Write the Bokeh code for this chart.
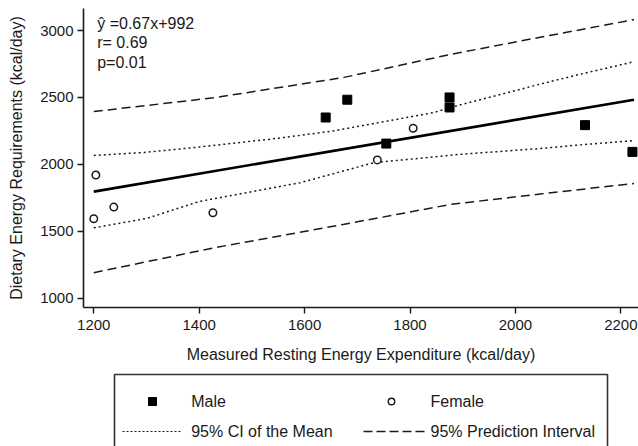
from bokeh.plotting import figure
from bokeh.models import Range1d, FixedTicker, Label
from bokeh.layouts import column
from bokeh.core.properties import value
from bokeh.embed import file_html
from bokeh.resources import INLINE

# ---------------- data ----------------
male_x = [1640, 1681, 1875, 1875, 1755, 2132, 2222]
male_y = [2350, 2483, 2500, 2425, 2155, 2293, 2093]
female_x = [1204, 1200, 1238, 1426, 1806, 1738]
female_y = [1920, 1593, 1680, 1638, 2270, 2033]

slope = 0.67
intercept = 992
fit_x = [1200, 2225]

ci_upper_x = [1200, 1300, 1402, 1550, 1655, 1845, 1877, 2047, 2130, 2225]
ci_upper = [2066, 2090, 2130, 2195, 2250, 2387, 2425, 2600, 2680, 2767]
ci_lower_x = [1200, 1300, 1400, 1592, 1731, 1896, 2047, 2130, 2225]
ci_lower = [1525, 1595, 1722, 1863, 2012, 2075, 2118, 2148, 2177]

pi_x = [1200, 1427, 1675, 1877, 2047, 2225]
pi_upper = [2395, 2497, 2650, 2822, 2950, 3082]
pi_lower = [1190, 1375, 1552, 1700, 1778, 1857]

x_ticks = [1200, 1400, 1600, 1800, 2000, 2200]
y_ticks = [1000, 1500, 2000, 2500, 3000]

stats_lines = ["\u0177 =0.67x+992", "r= 0.69", "p=0.01"]
stats_y = [3052, 2912, 2762]

legend_labels = ["Male", "Female", "95% CI of the Mean", "95% Prediction Interval"]

FONT = "Liberation Sans"
INK = "#1a1a1a"

# ---------------- main plot ----------------
p = figure(width=638, height=366, output_backend="svg", toolbar_location=None,
           x_range=Range1d(1180.5, 2233.5), y_range=Range1d(929.5, 3165),
           min_border_left=83, min_border_right=0, min_border_top=8,
           min_border_bottom=59)
p.outline_line_color = None
p.grid.visible = False
p.background_fill_color = "white"
p.border_fill_color = "white"

for ax in (p.xaxis[0], p.yaxis[0]):
    ax.axis_line_color = INK
    ax.axis_line_width = 1.6
    ax.major_tick_line_color = INK
    ax.major_tick_line_width = 1.4
    ax.major_tick_out = 6
    ax.major_tick_in = 0
    ax.minor_tick_line_color = None
    ax.major_label_text_font = FONT
    ax.major_label_text_font_size = "15px"
    ax.major_label_text_color = INK
    ax.axis_label_text_font = FONT
    ax.axis_label_text_font_size = "16px"
    ax.axis_label_text_font_style = "normal"
    ax.axis_label_text_color = INK

p.xaxis.ticker = FixedTicker(ticks=x_ticks)
p.yaxis.ticker = FixedTicker(ticks=y_ticks)
p.xaxis.axis_label = "Measured Resting Energy Expenditure (kcal/day)"
p.yaxis.axis_label = "Dietary Energy Requirements (kcal/day)"
p.xaxis.major_label_standoff = 6
p.xaxis.axis_label_standoff = 13
p.yaxis.major_label_standoff = 4
p.yaxis.axis_label_standoff = 12

# bands
p.line(pi_x, pi_upper, line_color=INK, line_width=1.5, line_dash="9 5")
p.line(pi_x, pi_lower, line_color=INK, line_width=1.5, line_dash="9 5")
p.line(ci_upper_x, ci_upper, line_color=INK, line_width=1.5, line_dash="2 3")
p.line(ci_lower_x, ci_lower, line_color=INK, line_width=1.5, line_dash="2 3")

# regression line
fit_y = [slope * xv + intercept for xv in fit_x]
p.line(fit_x, fit_y, line_color="black", line_width=2.6)

# points
p.scatter(male_x, male_y, marker="square", size=9, fill_color="black",
          line_color="black")
p.scatter(female_x, female_y, marker="circle", size=7.5, fill_color="white",
          line_color=INK, line_width=1.5)

for txt, yv in zip(stats_lines, stats_y):
    p.add_layout(Label(x=1206.5, y=yv, text=txt, text_font=FONT,
                       text_font_size="16px", text_color=INK,
                       text_baseline="middle"))

# ---------------- legend panel (page-pixel coordinates) ----------------
lg = figure(width=638, height=80, output_backend="svg", toolbar_location=None,
            x_range=Range1d(83, 638), y_range=Range1d(446, 366),
            min_border_left=83, min_border_right=0, min_border_top=0,
            min_border_bottom=0)
lg.axis.visible = False
lg.grid.visible = False
lg.outline_line_color = None

lg.line([114, 114, 607, 607], [470, 374, 374, 470], line_color="#333333", line_width=1.6)
lg.scatter([152], [401], marker="square", size=8, fill_color="black", line_color="black")
lg.scatter([391], [401], marker="circle", size=6.5, fill_color="white",
           line_color=INK, line_width=1.4)
lg.line([122, 180], [431, 431], line_color=INK, line_width=1.2, line_dash="2 2")
lg.line([363, 425], [431, 431], line_color=INK, line_width=1.4, line_dash="9 4")
lg.text(x=[190.7, 430, 190.7, 430], y=[401, 401, 431, 431], text=legend_labels,
        text_font=value(FONT), text_font_size="16px", text_color=INK,
        text_baseline="middle")

layout = column(p, lg, spacing=0)
open("out.html", "w").write(file_html(layout, INLINE))
